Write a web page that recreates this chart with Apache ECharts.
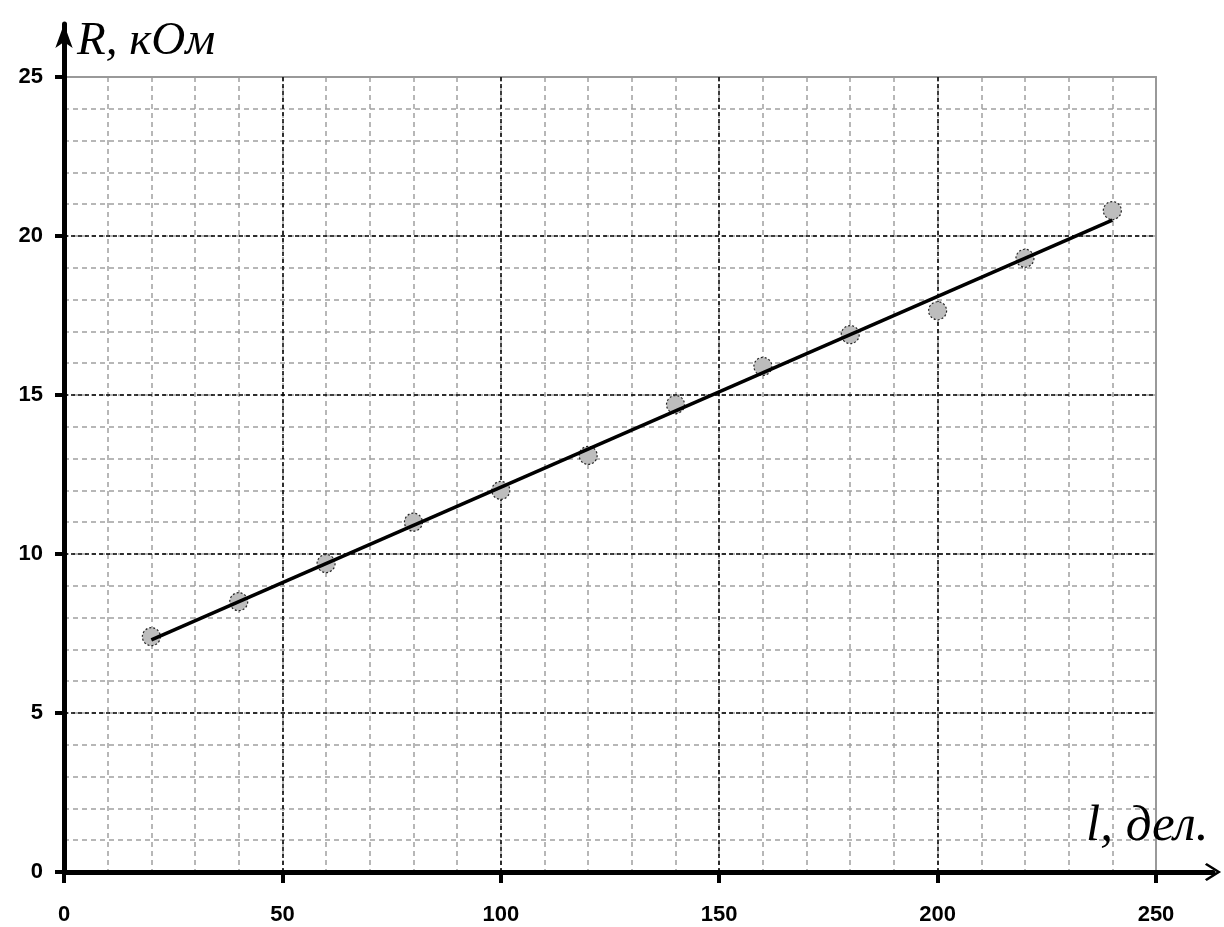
<!DOCTYPE html>
<html>
<head>
<meta charset="utf-8">
<script src="https://cdn.jsdelivr.net/npm/echarts@6/dist/echarts.min.js"></script>
<style>
    html, body { margin: 0; padding: 0; background: #fff; }
    #resistance { width: 1224px; height: 927px; }
</style>
</head>
<body>
<div id="resistance"></div>
<script>

// Chart data
var lenValues = [20, 40, 60, 80, 100, 120, 140, 160, 180, 200, 220, 240];
var resValues = [7.4, 8.5, 9.7, 11.0, 12.0, 13.1, 14.7, 15.9, 16.9, 17.65, 19.3, 20.8];

// Fitted line (ends)
var fitLen = [20, 240];
var fitRes = [7.3, 20.5];

// Tick labels
var xTicks = [0, 50, 100, 150, 200, 250];
var yTicks = [0, 5, 10, 15, 20, 25];
var xMinorStep = 10;
var yMinorStep = 1;


var EchartsResistanceLine = function() {


//
// Setup module components
//

var _resistanceLineExample = function() {
if (typeof echarts == 'undefined') {
    console.warn('Warning - echarts.min.js is not loaded.');
    return;
}

// Define element
var line_element = document.getElementById('resistance');

if (line_element) {

    // Initialize chart
    var line_chart = echarts.init(line_element);

    var scatterData = lenValues.map(function(v, i) { return [v, resValues[i]]; });
    var fitData = fitLen.map(function(v, i) { return [v, fitRes[i]]; });

    var labelFont = {
        color: '#000',
        fontFamily: 'Liberation Sans, Arial, sans-serif',
        fontWeight: 'bold',
        fontSize: 22
    };

    // Options
    line_chart.setOption({

        animation: false,

        // Axis names
        title: [{
            text: 'R, кОм',
            left: 77,
            top: 18,
            padding: 0,
            textStyle: {
                fontFamily: 'Liberation Serif, Times New Roman, serif',
                fontStyle: 'italic',
                fontWeight: 'normal',
                fontSize: 47,
                color: '#000'
            }
        }, {
            text: 'l, дел.',
            left: 1086,
            top: 801,
            padding: 0,
            textStyle: {
                fontFamily: 'Liberation Serif, Times New Roman, serif',
                fontStyle: 'italic',
                fontWeight: 'normal',
                fontSize: 51,
                color: '#000'
            }
        }],

        // Plot area + arrow area
        grid: [
            {left: 64, right: 68, top: 77, bottom: 55, containLabel: false},
            {left: 64, right: 11, top: 24, bottom: 55, containLabel: false}
        ],

        xAxis: [{
            // main axis, major grid
            type: 'value',
            gridIndex: 0,
            position: 'bottom',
            min: xTicks[0],
            max: xTicks[xTicks.length - 1],
            interval: xTicks[1] - xTicks[0],
            z: 3,
            axisLine: {show: true, onZero: false, lineStyle: {color: '#000', width: 5}},
            axisTick: {show: true, length: 11, lineStyle: {color: '#000', width: 4}},
            axisLabel: Object.assign({margin: 32}, labelFont),
            splitLine: {
                show: true, showMinLine: false, showMaxLine: false,
                lineStyle: {color: '#000', width: 1.5, type: [4, 3]}
            }
        }, {
            // minor grid + top border
            type: 'value',
            gridIndex: 0,
            position: 'top',
            min: xTicks[0],
            max: xTicks[xTicks.length - 1],
            interval: xMinorStep,
            z: 1,
            axisLine: {show: true, onZero: false, lineStyle: {color: '#999', width: 2}},
            axisTick: {show: false},
            axisLabel: {show: false},
            splitLine: {
                show: true, showMinLine: false, showMaxLine: false,
                lineStyle: {color: '#a0a0a0', width: 1.5, type: [5, 4]}
            }
        }, {
            // arrow
            type: 'value',
            gridIndex: 1,
            min: 0,
            max: 1,
            z: 4,
            axisLine: {
                show: true, onZero: false,
                symbol: ['none', 'path://M10,0 L20,16 L18,18 L10,5 L2,18 L0,16 Z'],
                symbolSize: [18, 20],
                lineStyle: {color: '#000', width: 5}
            },
            axisTick: {show: false},
            axisLabel: {show: false},
            splitLine: {show: false}
        }],

        yAxis: [{
            type: 'value',
            gridIndex: 0,
            position: 'left',
            min: yTicks[0],
            max: yTicks[yTicks.length - 1],
            interval: yTicks[1] - yTicks[0],
            z: 3,
            axisLine: {show: true, onZero: false, lineStyle: {color: '#000', width: 5}},
            axisTick: {show: true, length: 9, lineStyle: {color: '#000', width: 4}},
            axisLabel: Object.assign({margin: 21}, labelFont),
            splitLine: {
                show: true, showMinLine: false, showMaxLine: false,
                lineStyle: {color: '#000', width: 1.5, type: [4, 3]}
            }
        }, {
            type: 'value',
            gridIndex: 0,
            position: 'right',
            min: yTicks[0],
            max: yTicks[yTicks.length - 1],
            interval: yMinorStep,
            z: 1,
            axisLine: {show: true, onZero: false, lineStyle: {color: '#999', width: 2}},
            axisTick: {show: false},
            axisLabel: {show: false},
            splitLine: {
                show: true, showMinLine: false, showMaxLine: false,
                lineStyle: {color: '#a0a0a0', width: 1.5, type: [5, 4]}
            }
        }, {
            type: 'value',
            gridIndex: 1,
            min: 0,
            max: 1,
            z: 4,
            axisLine: {
                show: true, onZero: false,
                symbol: ['none', 'arrow'],
                symbolSize: [13, 24],
                lineStyle: {color: '#000', width: 5}
            },
            axisTick: {show: false},
            axisLabel: {show: false},
            splitLine: {show: false}
        }],

        // Add series
        series: [{
            name: 'Измерения',
            type: 'scatter',
            xAxisIndex: 0,
            yAxisIndex: 0,
            symbol: 'circle',
            symbolSize: 18,
            z: 5,
            itemStyle: {
                color: '#bdbdbd',
                borderColor: '#222',
                borderWidth: 1.2,
                borderType: [2, 2],
                opacity: 1
            },
            data: scatterData
        }, {
            name: 'Аппроксимация',
            type: 'line',
            xAxisIndex: 0,
            yAxisIndex: 0,
            symbol: 'none',
            z: 6,
            lineStyle: {color: '#000', width: 3.5},
            data: fitData
        }]
    });
}

};


//
// Return objects assigned to module
//

return {
init: function() {
    _resistanceLineExample();
}
}
}();


// Initialize module
// ------------------------------

document.addEventListener('DOMContentLoaded', function() {
EchartsResistanceLine.init();
});

</script>
</body>
</html>
